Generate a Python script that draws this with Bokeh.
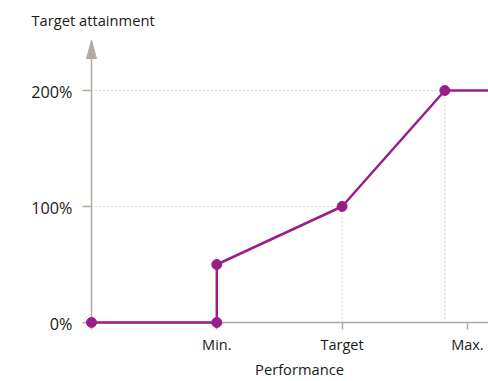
from bokeh.plotting import figure
from bokeh.models import LinearAxis, FixedTicker, Range1d, Label
from bokeh.embed import file_html
from bokeh.resources import INLINE

# Payout curve: target attainment as a function of performance
performance = [0, 1, 1, 2, 2.82, 3.2]
attainment = [0, 0, 50, 100, 200, 200]
marker_count = 5  # the last point only carries the cap to the edge

x_ticks = [0, 1, 2, 3]
x_tick_labels = ["", "Min.", "Target", "Max."]
y_ticks = [0, 100, 200]
y_tick_labels = ["0%", "100%", "200%"]

# points that get dotted guide lines to both axes
guide_x = [2, 2.82]
guide_y = [100, 200]

PURPLE = "#9b1d8b"
AXIS = "#b1aaa1"
GUIDE = "#bdb6ad"
TEXT = "#1a1a1a"
FONT = "Open Sans"

# canvas and frame geometry (pixels)
W, H = 488, 381
LEFT, TOP = 20, 8
ORIGIN_X, ORIGIN_Y = 91, 322        # where the axes cross
PX_X, PX_Y = 125.3, 1.16            # pixels per performance step / per percent
X0, X1 = -(ORIGIN_X - LEFT) / PX_X, (W - ORIGIN_X) / PX_X
Y0, Y1 = -(H - ORIGIN_Y) / PX_Y, (ORIGIN_Y - TOP) / PX_Y
Y_AXIS_TOP = (ORIGIN_Y - 40) / PX_Y

p = figure(width=W, height=H, output_backend="svg", toolbar_location=None,
           x_axis_type=None, y_axis_type=None,
           x_range=Range1d(X0, X1), y_range=Range1d(Y0, Y1),
           min_border_left=LEFT, min_border_right=0,
           min_border_top=TOP, min_border_bottom=0,
           outline_line_color=None, background_fill_color="white",
           border_fill_color="white")
p.xgrid.visible = False
p.ygrid.visible = False

# axes cross at the origin; the horizontal one sits in the top panel so that
# its ticks can hang downwards without reserving room at the bottom
xaxis = LinearAxis(ticker=FixedTicker(ticks=x_ticks), fixed_location=0,
                   bounds=(0, X1), major_tick_in=7, major_tick_out=0)
yaxis = LinearAxis(ticker=FixedTicker(ticks=y_ticks), fixed_location=0,
                   bounds=(0, Y_AXIS_TOP), major_tick_in=0, major_tick_out=9)
for ax in (xaxis, yaxis):
    ax.level = "underlay"
    ax.axis_line_color = AXIS
    ax.axis_line_width = 1.5
    ax.major_tick_line_color = AXIS
    ax.major_tick_line_width = 1.5
    ax.minor_tick_line_color = None
    ax.major_label_standoff = 0
    ax.major_label_text_font_size = "0px"
    ax.major_label_text_color = None
p.add_layout(xaxis, "above")
p.add_layout(yaxis, "left")

for t, s in zip(x_ticks, x_tick_labels):
    if s:
        p.add_layout(Label(x=t, y=0, text=s, y_offset=-22,
                           text_align="center", text_baseline="alphabetic",
                           text_font=FONT, text_font_size="14.5px",
                           text_color=TEXT))
for t, s in zip(y_ticks, y_tick_labels):
    p.add_layout(Label(x=0, y=t, text=s, x_offset=-19, y_offset=-1,
                       text_align="right", text_baseline="alphabetic",
                       text_font=FONT, text_font_size="16.2px",
                       text_color=TEXT))

# arrow head on top of the vertical axis
p.patch([-5 / PX_X, 0, 5 / PX_X],
        [Y_AXIS_TOP - 18 / PX_Y, Y_AXIS_TOP, Y_AXIS_TOP - 18 / PX_Y],
        fill_color=AXIS, line_color=AXIS, line_width=1)

# dotted guides from the target and maximum points to the axes
p.segment(x0=[0] * len(guide_x), y0=guide_y, x1=guide_x, y1=guide_y,
          line_color=GUIDE, line_width=1.2, line_dash="1 3")
p.segment(x0=guide_x, y0=[0] * len(guide_x), x1=guide_x, y1=guide_y,
          line_color=GUIDE, line_width=1.2, line_dash="1 3")

p.line(performance, attainment, line_color=PURPLE, line_width=2.5)
p.scatter(performance[:marker_count], attainment[:marker_count], size=10,
          fill_color=PURPLE, line_color=PURPLE)

# axis names
p.add_layout(Label(x=0, y=0, text="Target attainment", x_offset=-60, y_offset=303,
                   text_align="left", text_baseline="alphabetic",
                   text_font=FONT, text_font_size="14.7px", text_color=TEXT))
p.add_layout(Label(x=0, y=0, text="Performance", x_offset=208, y_offset=-46,
                   text_align="center", text_baseline="alphabetic",
                   text_font=FONT, text_font_size="14.7px", text_color=TEXT))

open("out.html", "w").write(file_html(p, INLINE))
